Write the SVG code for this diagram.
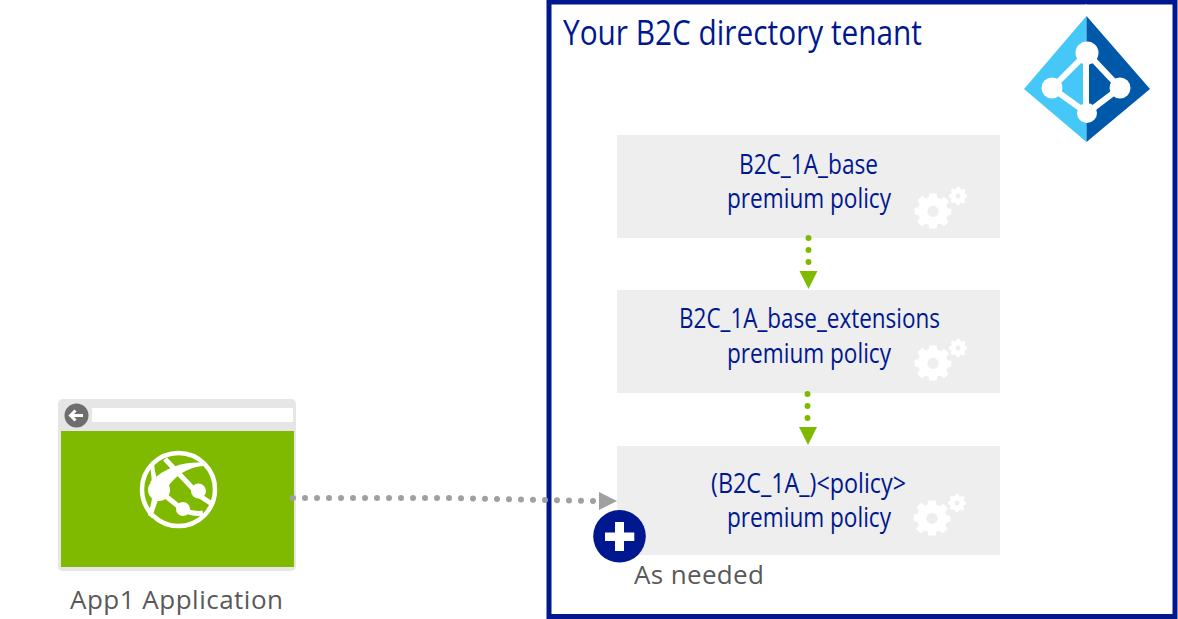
<svg xmlns="http://www.w3.org/2000/svg" xmlns:xlink="http://www.w3.org/1999/xlink" width="1178" height="619" viewBox="0 0 1178 619">
<style>
text{font-family:"Open Sans","Noto Sans","Liberation Sans",sans-serif}
.blue{fill:#00188f;font-size:27.500px}
.grey{fill:#595959;font-size:26px}
.box{fill:#eeeeee}
.gr{stroke:#7fba00;stroke-width:6;stroke-linecap:round;stroke-dasharray:0 12;fill:none}
.gy{stroke:#a0a0a0;stroke-width:6;stroke-linecap:round;stroke-dasharray:0 12;fill:none}
</style>
<defs>
<g id="gear">
<path fill="#fff" fill-rule="evenodd" d="M-4.500 -20H4.500L5.500 -14.500L9.500 -12.800L14 -16L20 -10L16.500 -5.500L18.300 -1.500L23 -0.500V6.500L18.300 7.500L16.500 11L19.500 16L13.500 21L9 17.500L5.500 19L4.500 24H-4.500L-5.500 19L-9.500 17.500L-14 21L-20 15L-16.500 11L-18.300 7L-23 6V-2L-18.300 -3L-16.500 -6.500L-19.500 -11.500L-13.500 -17L-9 -13.500L-5.500 -15ZM0 -4.500A7 7 0 1 0 0.010 9.500A7 7 0 1 0 0 -4.500Z" transform="translate(0,-2)"/>
<path fill="#fff" fill-rule="evenodd" transform="translate(31.250,-18.750) scale(.72) translate(-24.250,15.250)" d="M22 -31H27L28 -27.500L31 -26L34 -28L37.500 -24.500L35.500 -21.500L36.500 -18.500L40 -17.500V-12.500L36.500 -11.500L35 -8.500L37 -5.500L33.500 -2L30.500 -4L27.500 -3L26.500 0.500H21.500L20.500 -3L17.500 -4.500L14.500 -2.500L11 -6L13 -9L12 -12L8.500 -13V-18L12 -19L13.500 -22L11.500 -25L15 -28.500L18 -26.500L21 -27.500ZM24.250 -19.500A4.250 4.250 0 1 0 24.260 -11A4.250 4.250 0 1 0 24.250 -19.500Z"/>
</g>
</defs>
<g id="tenant">
<rect x="549" y="2" width="626" height="614.500" fill="#fff" stroke="#00188f" stroke-width="5"/>
<text x="563" y="45" fill="#00188f" font-size="35" textLength="359" lengthAdjust="spacingAndGlyphs">Your B2C directory tenant</text>
</g>
<g id="aad-icon">
<path d="M1086 4.500V16" stroke="#fff" stroke-width="1.500"/>
<path d="M1086.500 16L1024 89L1086.500 142Z" fill="#45c8f7"/>
<path d="M1086.500 16L1150 89L1086.500 142Z" fill="#0058a8"/>
<path d="M1087 53L1052 88L1087 113L1120 88Z M1086 53V113" fill="none" stroke="#fff" stroke-width="6"/>
<circle cx="1087" cy="53" r="11.500" fill="#fff"/><circle cx="1052" cy="88" r="10.500" fill="#fff"/><circle cx="1120" cy="88" r="10.500" fill="#fff"/><circle cx="1087" cy="113" r="10" fill="#fff"/>
</g>
<g id="policy-base">
<rect class="box" x="617" y="135" width="383" height="103"/>
<text class="blue" x="739" y="174" textLength="139" lengthAdjust="spacingAndGlyphs">B2C_1A_base</text>
<text class="blue" x="727" y="208" textLength="164" lengthAdjust="spacingAndGlyphs">premium policy</text>
<use xlink:href="#gear" href="#gear" transform="translate(933,211) scale(.8)"/>
</g>
<g id="policy-extensions">
<rect class="box" x="617" y="290" width="383" height="103"/>
<text class="blue" x="679" y="328" textLength="261" lengthAdjust="spacingAndGlyphs">B2C_1A_base_extensions</text>
<text class="blue" x="727" y="363" textLength="164" lengthAdjust="spacingAndGlyphs">premium policy</text>
<use xlink:href="#gear" href="#gear" transform="translate(933,363) scale(.8)"/>
</g>
<g id="policy-rp">
<rect class="box" x="617" y="446" width="383" height="109"/>
<text class="blue" x="711" y="493" textLength="195" lengthAdjust="spacingAndGlyphs">(B2C_1A_)&lt;policy&gt;</text>
<text class="blue" x="727" y="527" textLength="164" lengthAdjust="spacingAndGlyphs">premium policy</text>
<use xlink:href="#gear" href="#gear" transform="translate(932,518) scale(.8)"/>
</g>
<g id="app1">
<rect x="58" y="399" width="238" height="172" rx="5" fill="#e6e6e6"/>
<rect x="92" y="408" width="201" height="14" fill="#fff"/>
<circle cx="76.500" cy="415.500" r="12" fill="#6e6e6e"/>
<path d="M83 415.500H71M75.500 410.500L70.500 415.500L75.500 420.500" fill="none" stroke="#fff" stroke-width="3"/>
<rect x="61" y="431" width="233" height="136" fill="#7fba00"/>
<g fill="none" stroke="#fff">
<circle cx="178.500" cy="489.500" r="36.500" stroke-width="4.500"/>
<path d="M165 459L200 496L212 504" stroke-width="5"/>
<path d="M157 489L183 510C190 513 197 514 203 513" stroke-width="5"/>
</g>
<path d="M150 482C168 465 188 461 206 463L204 466C186 467 172 478 165 492Z" fill="#fff"/>
<path d="M150 465L154 463C155 475 158 482 160 488L160 495C157 503 154 511 152 518L148 515C151 505 153 498 152 489C152 480 151 472 150 465Z" fill="#fff"/>
<circle cx="159" cy="490" r="11" fill="#fff"/><circle cx="198.500" cy="491" r="7.500" fill="#fff"/><circle cx="183" cy="509" r="7" fill="#fff"/>
<text class="grey" x="70" y="609" textLength="213">App1 Application</text>
</g>
<g id="connectors">
<path class="gr" d="M808.500 238V265"/><path d="M799.500 271H817.500L808.500 289Z" fill="#7fba00"/>
<path class="gr" d="M807.500 394V421"/><path d="M799 427H817L808 445Z" fill="#7fba00"/>
<path class="gy" d="M293 498H450L594 501"/><path d="M599 492L617 501L599 510Z" fill="#a0a0a0"/>
</g>
<g id="as-needed">
<circle cx="619.500" cy="536.300" r="26.300" fill="#00188f"/>
<path d="M605 532.500H615V522H624V532.500H634.300V541H624V551H615V541H605Z" fill="#fff"/>
<text class="grey" x="634" y="584" textLength="130">As needed</text>
</g>
</svg>
